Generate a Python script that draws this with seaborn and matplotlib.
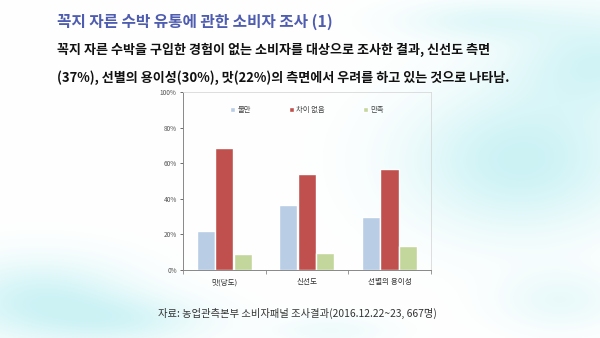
import numpy as np
import pandas as pd
import matplotlib
matplotlib.use("Agg")
import matplotlib.pyplot as plt
import seaborn as sns
from matplotlib.ticker import PercentFormatter

categories = ["맛(당도)", "신선도", "선별의 용이성"]
series = ["불만", "차이 없음", "만족"]
dissatisfied = [22, 36.6, 29.9]
no_difference = [68.8, 54.2, 56.8]
satisfied = [9.0, 9.3, 13.6]
y_ticks = [0, 20, 40, 60, 80, 100]

title = "꼭지 자른 수박 유통에 관한 소비자 조사 (1)"
line1 = "꼭지 자른 수박을 구입한 경험이 없는 소비자를 대상으로 조사한 결과, 신선도 측면"
line2 = "(37%), 선별의 용이성(30%), 맛(22%)의 측면에서 우려를 하고 있는 것으로 나타남."
source = "자료: 농업관측본부 소비자패널 조사결과(2016.12.22~23, 667명)"

df = pd.DataFrame({
    "category": categories * 3,
    "series": [s for s in series for _ in categories],
    "value": dissatisfied + no_difference + satisfied,
})

sns.set_theme(style="white")
plt.rcParams["font.family"] = ["Noto Sans CJK KR", "DejaVu Sans"]

fig = plt.figure(figsize=(6, 3.38), dpi=100)

# soft cloud-like background
bg = fig.add_axes([0, 0, 1, 1])
W, H = 600, 338
xx, yy = np.meshgrid(np.arange(W), np.arange(H))
field = np.zeros((H, W))
blobs = [(40, 300, 90, 40, 0.9), (130, 320, 80, 25, 0.6), (520, 160, 110, 70, 1.0),
         (600, 60, 90, 50, 0.8), (480, 20, 80, 20, 0.5), (560, 300, 60, 30, 0.4),
         (330, 330, 60, 15, 0.3)]
for cx, cy, sx, sy, a in blobs:
    field += a * np.exp(-(((xx - cx) / sx) ** 2 + ((yy - cy) / sy) ** 2))
field = np.clip(field, 0, 1)
base = np.array([1.0, 1.0, 1.0])
cyan = np.array([0.80, 0.95, 0.96])
img = base[None, None, :] * (1 - field[..., None]) + cyan[None, None, :] * field[..., None]
bg.imshow(img, extent=[0, 1, 0, 1], aspect="auto", origin="upper")
bg.set_axis_off()

ax = fig.add_axes([0.305, 0.201, 0.413, 0.527])
ax.patch.set_alpha(0)
palette = {"불만": "#b9cde5", "차이 없음": "#c0504d", "만족": "#c3d69b"}
sns.barplot(data=df, x="category", y="value", hue="series", order=categories,
            hue_order=series, palette=palette, width=0.67, gap=0.02,
            saturation=1, ax=ax)

ax.set_ylim(0, 100)
ax.set_xlim(-0.5, 2.5)
ax.set_yticks(y_ticks)
ax.yaxis.set_major_formatter(PercentFormatter(decimals=0))
ax.set_xlabel("")
ax.set_ylabel("")
ax.tick_params(axis="y", labelsize=4.7, colors="#555555", length=2.5, width=0.6,
               left=True, pad=2)
ax.tick_params(axis="x", labelsize=5.5, colors="#333333", length=0, pad=6)
ax.set_xticks([-0.5, 0.5, 1.5, 2.5], minor=True)
ax.tick_params(axis="x", which="minor", length=3, width=0.6, color="#888888", bottom=True)
for s in ["top", "right"]:
    ax.spines[s].set_color("#d8d8d8")
    ax.spines[s].set_linewidth(0.6)
for s in ["left", "bottom"]:
    ax.spines[s].set_color("#888888")
    ax.spines[s].set_linewidth(0.7)

leg = ax.legend(loc="upper center", bbox_to_anchor=(0.5, 0.96), ncol=3, frameon=False,
                fontsize=5.3, handlelength=0.7, handleheight=0.7, handletextpad=0.3,
                columnspacing=5.2)
for t in leg.get_texts():
    t.set_color("#444444")

fig.text(57 / 600, 1 - 22 / 338, title, fontsize=11.3, fontweight="bold",
         color="#4f5db0", va="center", ha="left")
fig.text(57 / 600, 1 - 50 / 338, line1, fontsize=9.4, fontweight="bold",
         color="#111111", va="center", ha="left")
fig.text(57 / 600, 1 - 78 / 338, line2, fontsize=9.4, fontweight="bold",
         color="#111111", va="center", ha="left")
fig.text(158 / 600, 1 - 313 / 338, source, fontsize=7.4, color="#333333",
         va="center", ha="left")

fig.savefig("out.png", dpi=100)
